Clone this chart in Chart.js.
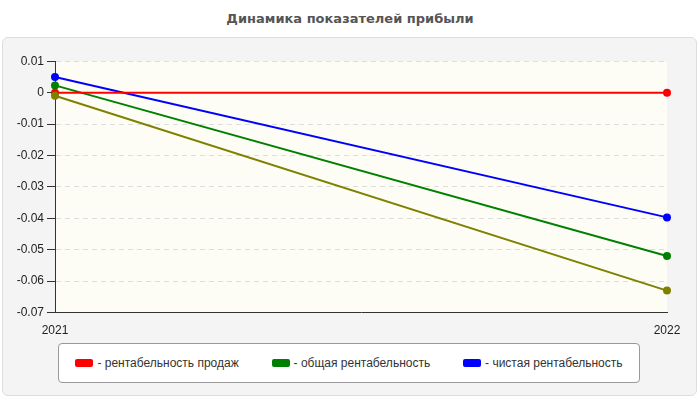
<!DOCTYPE html>
<html><head><meta charset="utf-8">
<script src="https://cdn.jsdelivr.net/npm/chart.js@4/dist/chart.umd.min.js"></script>
<style>
body{margin:0;background:#fff;font-family:"Liberation Sans",Arial,sans-serif;}
#title{position:absolute;left:0;top:11px;width:700px;text-align:center;font-weight:bold;font-size:13px;color:#555;font-family:"DejaVu Sans",sans-serif;}
#panel{position:absolute;left:2px;top:37px;width:693px;height:357px;background:#f4f4f4;border:1px solid #ddd;border-radius:6px;}
#wrap{position:absolute;left:0;top:51px;width:700px;height:290px;}
#legend{position:absolute;left:58px;top:343px;width:580px;height:38px;border:1px solid #999;border-radius:4px;background:#fff;font-size:12px;color:#333;display:flex;align-items:center;justify-content:space-around;}
.li{display:flex;align-items:center;gap:4px}
.sw{display:inline-block;width:18px;height:8px;border-radius:2px}
</style></head><body>
<div id="title">Динамика показателей прибыли</div>
<div id="panel"></div>
<div id="wrap"><canvas id="c" width="700" height="290"></canvas></div>
<div id="legend"></div>
<script>
const categories=["2021","2022"];
const salesProfit=[0,0];
const totalProfit=[0.0023,-0.052];
const netProfit=[0.005,-0.0397];
const otherProfit=[-0.001,-0.063];
const names=["- рентабельность продаж","- общая рентабельность","- чистая рентабельность"];
const colors=["#ff0000","#008000","#0000ff","#808000"];
const vals=[salesProfit,totalProfit,netProfit,otherProfit];
const leg=document.getElementById('legend');
names.forEach((n,i)=>{leg.innerHTML+=`<span class="li"><span class="sw" style="background:${colors[i]}"></span>${n}</span>`;});
const bg={id:'bg',beforeDraw(ch){const a=ch.chartArea,x=ch.ctx;x.save();x.fillStyle='#fdfdf6';x.fillRect(a.left,a.top,a.right-a.left,a.bottom-a.top);x.restore();}};
new Chart(document.getElementById('c'),{type:'line',
data:{labels:categories,datasets:[3,0,1,2].map(i=>({data:vals[i],borderColor:colors[i],backgroundColor:colors[i],borderWidth:2,pointRadius:3,tension:0}))},
options:{responsive:false,animation:false,layout:{padding:{left:0,right:33,top:10,bottom:0}},
plugins:{legend:{display:false},tooltip:{enabled:false}},
scales:{x:{offset:false,grid:{display:false},border:{color:'#333'},ticks:{color:'#222',font:{size:12,family:'"Liberation Sans",Arial'},maxRotation:0}},
y:{min:-0.07,max:0.01,afterFit(s){s.width=55},ticks:{stepSize:0.01,color:'#222',font:{size:12,family:'"Liberation Sans",Arial'},callback:v=>Math.abs(v)<1e-9?'0':+v.toFixed(2)},
grid:{color:'#ddd',tickColor:'#333',drawTicks:true},border:{color:'#333',dash:[5,4]}}}},
plugins:[bg]});
</script></body></html>
